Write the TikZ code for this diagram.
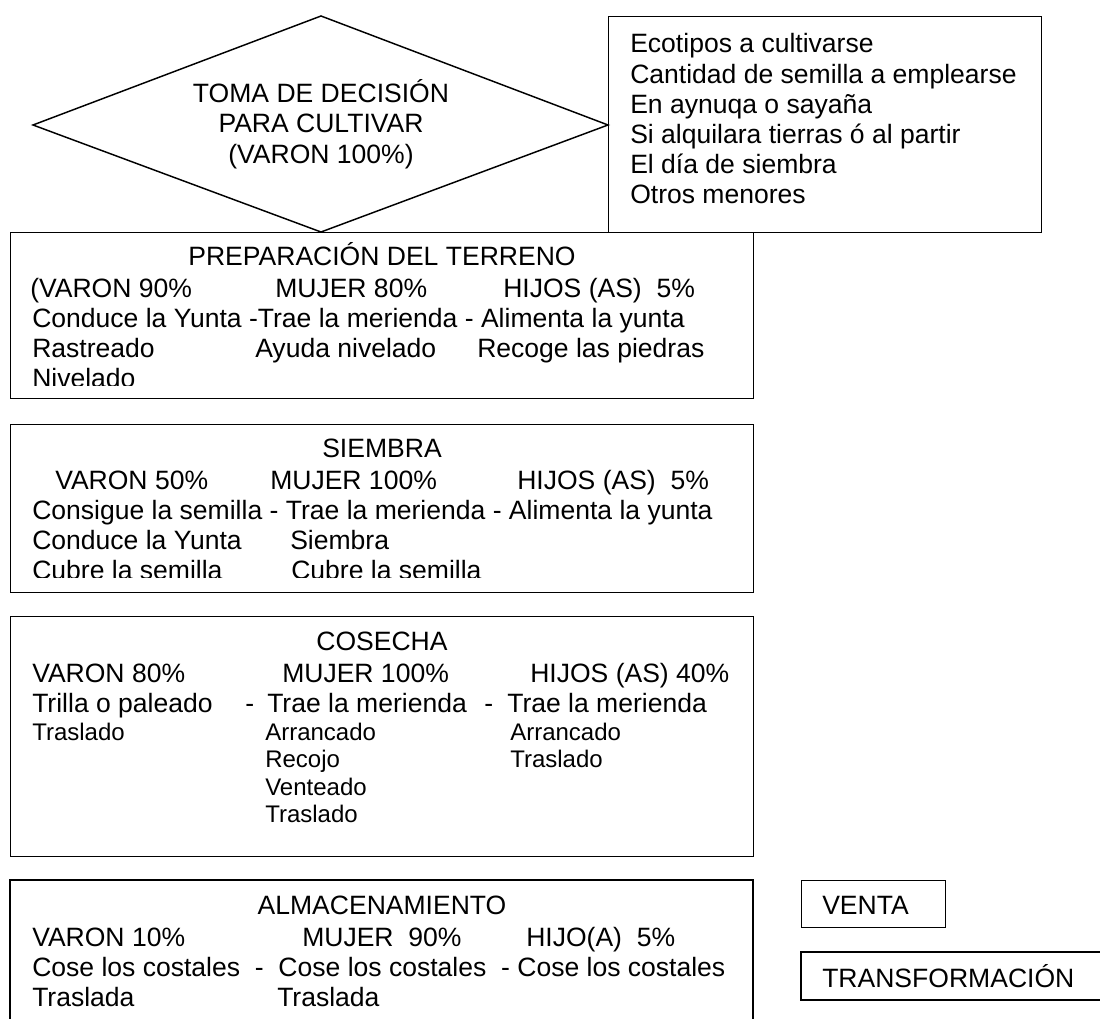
\documentclass[tikz,border=0pt]{standalone}
\usepackage{fontspec}
\setmainfont{Liberation Sans}
\begin{document}
\begin{tikzpicture}[x=0.75pt,y=-0.75pt,
  frame/.style={draw, line width=1.1pt, inner sep=0pt, anchor=north west},
  txt/.style={anchor=base west, inner sep=0pt, font=\fontsize{19.9pt}{22pt}\selectfont},
  sml/.style={anchor=base west, inner sep=0pt, font=\fontsize{18pt}{20pt}\selectfont},
  ttl/.style={anchor=base, inner sep=0pt, font=\fontsize{19.9pt}{22pt}\selectfont}]
\useasboundingbox (0,0) rectangle (1100,1019);

% decision diamond
\coordinate (dl) at (33,125);
\coordinate (dt) at (321,16);
\coordinate (dr) at (608,125);
\coordinate (db) at (321,232);
\draw[line width=1.1pt, line join=miter] (dl) -- (dt) -- (dr) -- (db) -- cycle;
\node[ttl] (d1) at (321,103) {TOMA DE DECISIÓN};
\node[ttl] (d2) at (321,133) {PARA CULTIVAR};
\node[ttl] (d3) at (321,164) {(VARON 100\%)};

% right box
\node[frame, minimum width={433*0.75pt}, minimum height={216*0.75pt}] (crit) at (608,16) {};
\node[txt] (c1) at (630,53) {Ecotipos a cultivarse};
\node[txt] (c2) at (630,83.2) {Cantidad de semilla a emplearse};
\node[txt] (c3) at (630,113.4) {En aynuqa o sayaña};
\node[txt] (c4) at (630,143.6) {Si alquilara tierras ó al partir};
\node[txt] (c5) at (630,173.8) {El día de siembra};
\node[txt] (c6) at (630,204) {Otros menores};

% preparacion
\node[frame, minimum width={743*0.75pt}, minimum height={166*0.75pt}] (prep) at (10,232) {};
\node[ttl] (p0) at (382,266) {PREPARACIÓN DEL TERRENO};
\node[txt] (p1a) at (30,298) {(VARON 90\%};
\node[txt] (p1b) at (275,298) {MUJER 80\%};
\node[txt] (p1c) at (503,298) {HIJOS (AS)\ \ 5\%};
\node[txt] (p2) at (32,328) {Conduce la Yunta -Trae la merienda - Alimenta la yunta};
\node[txt] (p3a) at (32,358) {Rastreado};
\node[txt] (p3b) at (255,358) {Ayuda nivelado};
\node[txt] (p3c) at (477,358) {Recoge las piedras};
\begin{scope}
\clip (10,360) rectangle (753,386);
\node[txt] (p4) at (32,388) {Nivelado};
\end{scope}

% siembra
\node[frame, minimum width={743*0.75pt}, minimum height={168*0.75pt}] (siem) at (10,424) {};
\node[ttl] (s0) at (382,458) {SIEMBRA};
\node[txt] (s1a) at (55,490) {VARON 50\%};
\node[txt] (s1b) at (270,490) {MUJER 100\%};
\node[txt] (s1c) at (517,490) {HIJOS (AS)\ \ 5\%};
\node[txt] (s2) at (32,520) {Consigue la semilla - Trae la merienda - Alimenta la yunta};
\node[txt] (s3a) at (32,550) {Conduce la Yunta};
\node[txt] (s3b) at (290,550) {Siembra};
\begin{scope}
\clip (10,552) rectangle (753,578);
\node[txt] (s4a) at (32,580) {Cubre la semilla};
\node[txt] (s4b) at (291,580) {Cubre la semilla};
\end{scope}

% cosecha
\node[frame, minimum width={743*0.75pt}, minimum height={240*0.75pt}] (cose) at (10,616) {};
\node[ttl] (k0) at (382,650) {COSECHA};
\node[txt] (k1a) at (32,682) {VARON 80\%};
\node[txt] (k1b) at (282,682) {MUJER 100\%};
\node[txt] (k1c) at (530,682) {HIJOS (AS) 40\%};
\node[txt] (k2a) at (32,712) {Trilla o paleado};
\node[txt] (k2b) at (245,712) {-};
\node[txt] (k2c) at (267,712) {Trae la merienda};
\node[txt] (k2d) at (484,712) {-};
\node[txt] (k2e) at (507,712) {Trae la merienda};
\node[sml] (k3a) at (32,740) {Traslado};
\node[sml] (k3b) at (265,740) {Arrancado};
\node[sml] (k3c) at (510,740) {Arrancado};
\node[sml] (k4b) at (265,767.5) {Recojo};
\node[sml] (k4c) at (510,767.5) {Traslado};
\node[sml] (k5b) at (265,795) {Venteado};
\node[sml] (k6b) at (265,822.5) {Traslado};

% almacenamiento (open at the bottom)
\coordinate (a1) at (10,1030);
\coordinate (a2) at (10,880);
\coordinate (a3) at (753,880);
\coordinate (a4) at (753,1030);
\draw[line width=1.1pt] (a1) -- (a2) -- (a3) -- (a4);
\node[ttl] (a0) at (382,914) {ALMACENAMIENTO};
\node[txt] (a1a) at (32,946) {VARON 10\%};
\node[txt] (a1b) at (302,946) {MUJER\ \ 90\%};
\node[txt] (a1c) at (526,946) {HIJO(A)\ \ 5\%};
\node[txt] (a2a) at (32,976) {Cose los costales\ \ -\ \ Cose los costales\ \ - Cose los costales};
\node[txt] (a3a) at (32,1006) {Traslada};
\node[txt] (a3b) at (277,1006) {Traslada};

% venta / transformacion
\node[frame, minimum width={144*0.75pt}, minimum height={47*0.75pt}] (venta) at (801,880) {};
\node[txt] (vt) at (822,914) {VENTA};
\coordinate (t1) at (1110,952);
\coordinate (t2) at (801,952);
\coordinate (t3) at (801,1000);
\coordinate (t4) at (1110,1000);
\draw[line width=1.1pt] (t1) -- (t2) -- (t3) -- (t4);
\node[txt] (tt) at (822,987) {TRANSFORMACIÓN};
\end{tikzpicture}
\end{document}
